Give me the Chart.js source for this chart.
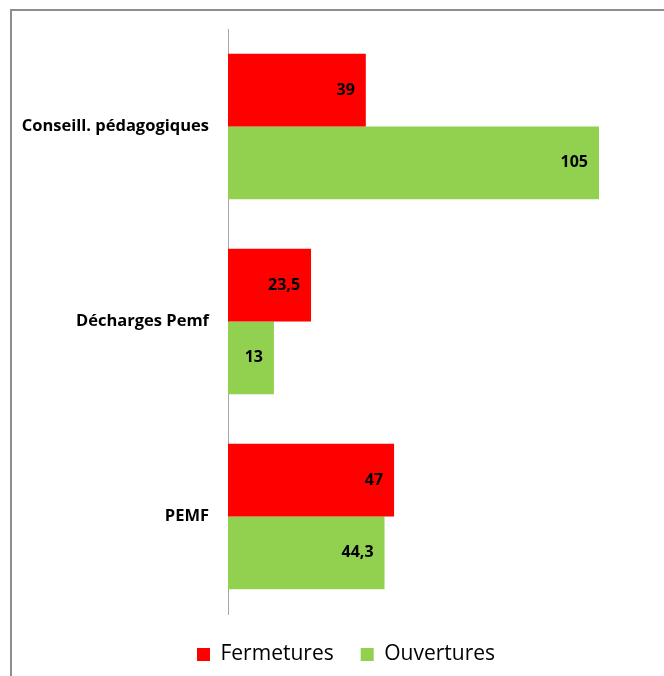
<!DOCTYPE html>
<html>
<head>
<meta charset="utf-8">
<script src="https://cdn.jsdelivr.net/npm/chart.js@4.4.0/dist/chart.umd.min.js"></script>
<style>
    html, body { margin: 0; padding: 0; background: #fff; overflow: hidden; }
    #frame {
        position: absolute; left: 10px; top: 9px; width: 700px; height: 700px;
        border-left: 2px solid #8e8e8e; border-top: 2px solid #8e8e8e;
    }
    #wrap { position: absolute; left: 0; top: 0; width: 664px; height: 676px; }
</style>
</head>
<body>
<div id="frame"></div>
<div id="wrap"><canvas id="chart"></canvas></div>
<script>
// Chart data
const categories = ['Conseill. pédagogiques', 'Décharges Pemf', 'PEMF'];
const fermetures = [39, 23.5, 47];
const ouvertures = [105, 13, 44.3];

// Draw value labels inside the end of each bar
const valueLabels = {
    id: 'valueLabels',
    afterDatasetsDraw(chart) {
        const ctx = chart.ctx;
        ctx.save();
        ctx.font = 'bold 16px "Open Sans"';
        ctx.fillStyle = '#000';
        ctx.textAlign = 'right';
        ctx.textBaseline = 'middle';
        chart.data.datasets.forEach((ds, i) => {
            chart.getDatasetMeta(i).data.forEach((bar, j) => {
                let txt = String(ds.data[j]).replace('.', ',');
                ctx.fillText(txt, bar.x - 11, bar.y);
            });
        });
        ctx.restore();
    }
};

// Legend sits a bit right of centre (and a little lower) in the original
const shiftLegend = {
    id: 'shiftLegend',
    afterLayout(chart) {
        chart.legend.left += 20;
        chart.legend.right += 20;
        chart.legend.top += 3;
        chart.legend.bottom += 3;
    }
};

let ctx = document.getElementById('chart').getContext('2d');
new Chart(ctx, {
    type: 'bar',
    data: {
        labels: categories,
        datasets: [
            { label: 'Fermetures', backgroundColor: '#ff0000', data: fermetures },
            { label: 'Ouvertures', backgroundColor: '#92d050', data: ouvertures }
        ]
    },
    options: {
        indexAxis: 'y',
        responsive: true,
        maintainAspectRatio: false,
        animation: false,
        categoryPercentage: 0.745,
        barPercentage: 1,
        layout: { padding: { top: 29, right: 12, left: 0, bottom: 4 } },
        scales: {
            x: { display: false, min: 0, max: 120 },
            y: {
                grid: { display: false },
                border: { display: true, color: '#a6a6a6', width: 1 },
                afterFit: function(scale) { scale.width = 228; },
                ticks: {
                    padding: 11,
                    color: '#000',
                    font: { family: 'Open Sans', size: 16.5, weight: 'bold' }
                }
            }
        },
        plugins: {
            legend: {
                position: 'bottom',
                labels: {
                    color: '#000',
                    boxWidth: 13,
                    boxHeight: 13,
                    padding: 27,
                    font: { family: 'Open Sans', size: 21 }
                }
            },
            tooltip: { enabled: false }
        }
    },
    plugins: [valueLabels, shiftLegend]
});
</script>
</body>
</html>
